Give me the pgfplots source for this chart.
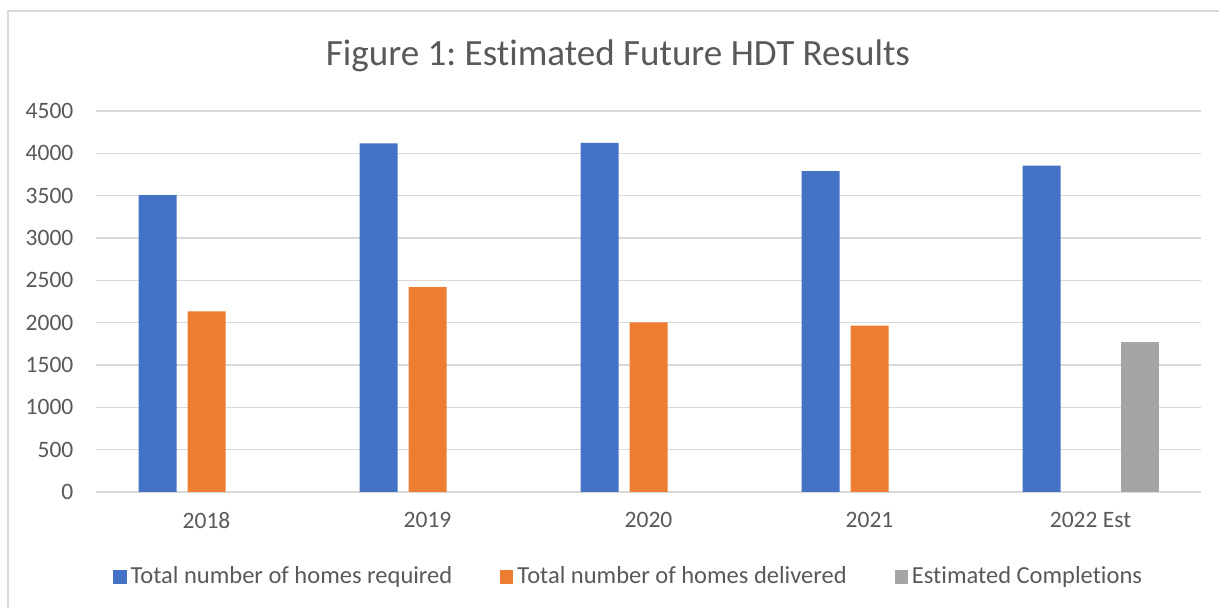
\documentclass[border=0pt]{standalone}
\usepackage{pgfplots}
\pgfplotsset{compat=1.18}
\usepackage{fontspec}
\setmainfont{Carlito}[Ligatures=NoCommon]
\frenchspacing
\definecolor{cblue}{HTML}{4472C4}
\definecolor{corange}{HTML}{ED7D31}
\definecolor{cgray}{HTML}{A5A5A5}
\definecolor{ctext}{HTML}{595959}
\definecolor{cgrid}{HTML}{D9D9D9}
\begin{document}
\begin{tikzpicture}
\path[use as bounding box] (0,0) rectangle (609.5bp,304bp);
\draw[cgrid, line width=0.7bp] (4bp,0) -- (4bp,298.5bp) -- (609.5bp,298.5bp);
\node[text=ctext, font=\fontsize{18.6}{21}\selectfont, anchor=center] at (309bp,276bp) {Figure 1: Estimated Future HDT Results};
\begin{axis}[
  at={(48bp,58bp)}, anchor=south west,
  scale only axis, width=552.5bp, height=190.5bp,
  ybar=5.5bp, bar width=19bp,
  xmin=-0.5, xmax=4.5, ymin=0, ymax=4500,
  xtick={0,1,2,3,4},
  xticklabels={2018,2019,2020,2021,2022 Est},
  ytick={0,500,...,4500},
  ymajorgrids, grid style={cgrid, line width=0.7bp},
  axis line style={draw=none},
  major tick length=0pt,
  tick label style={text=ctext, font=\fontsize{11.8}{13}\selectfont},
  /pgf/number format/assume math mode=true,
  /pgf/number format/1000 sep={},
  yticklabel style={xshift=-7.8bp},
  xticklabel style={yshift=-6.7bp},
  legend columns=3,
  legend style={at={(0.483,-0.223)}, anchor=center, draw=none, fill=none,
    font=\fontsize{12.3}{14}\selectfont, text=ctext,
    /tikz/every even column/.append style={column sep=22bp},
    inner sep=0pt},
  legend image code/.code={\fill[#1] (0bp,-3.3bp) rectangle (6.6bp,3.3bp);},
]
\addplot[fill=cblue, draw=none] coordinates {(0,3507) (1,4119) (2,4123) (3,3789) (4,3855)};
\addplot[fill=corange, draw=none] coordinates {(0,2134) (1,2421) (2,2004) (3,1965)};
\addplot[fill=cgray, draw=none] coordinates {(4,1777)};
\legend{Total number of homes required, Total number of homes delivered, Estimated Completions}
\end{axis}
\end{tikzpicture}
\end{document}
